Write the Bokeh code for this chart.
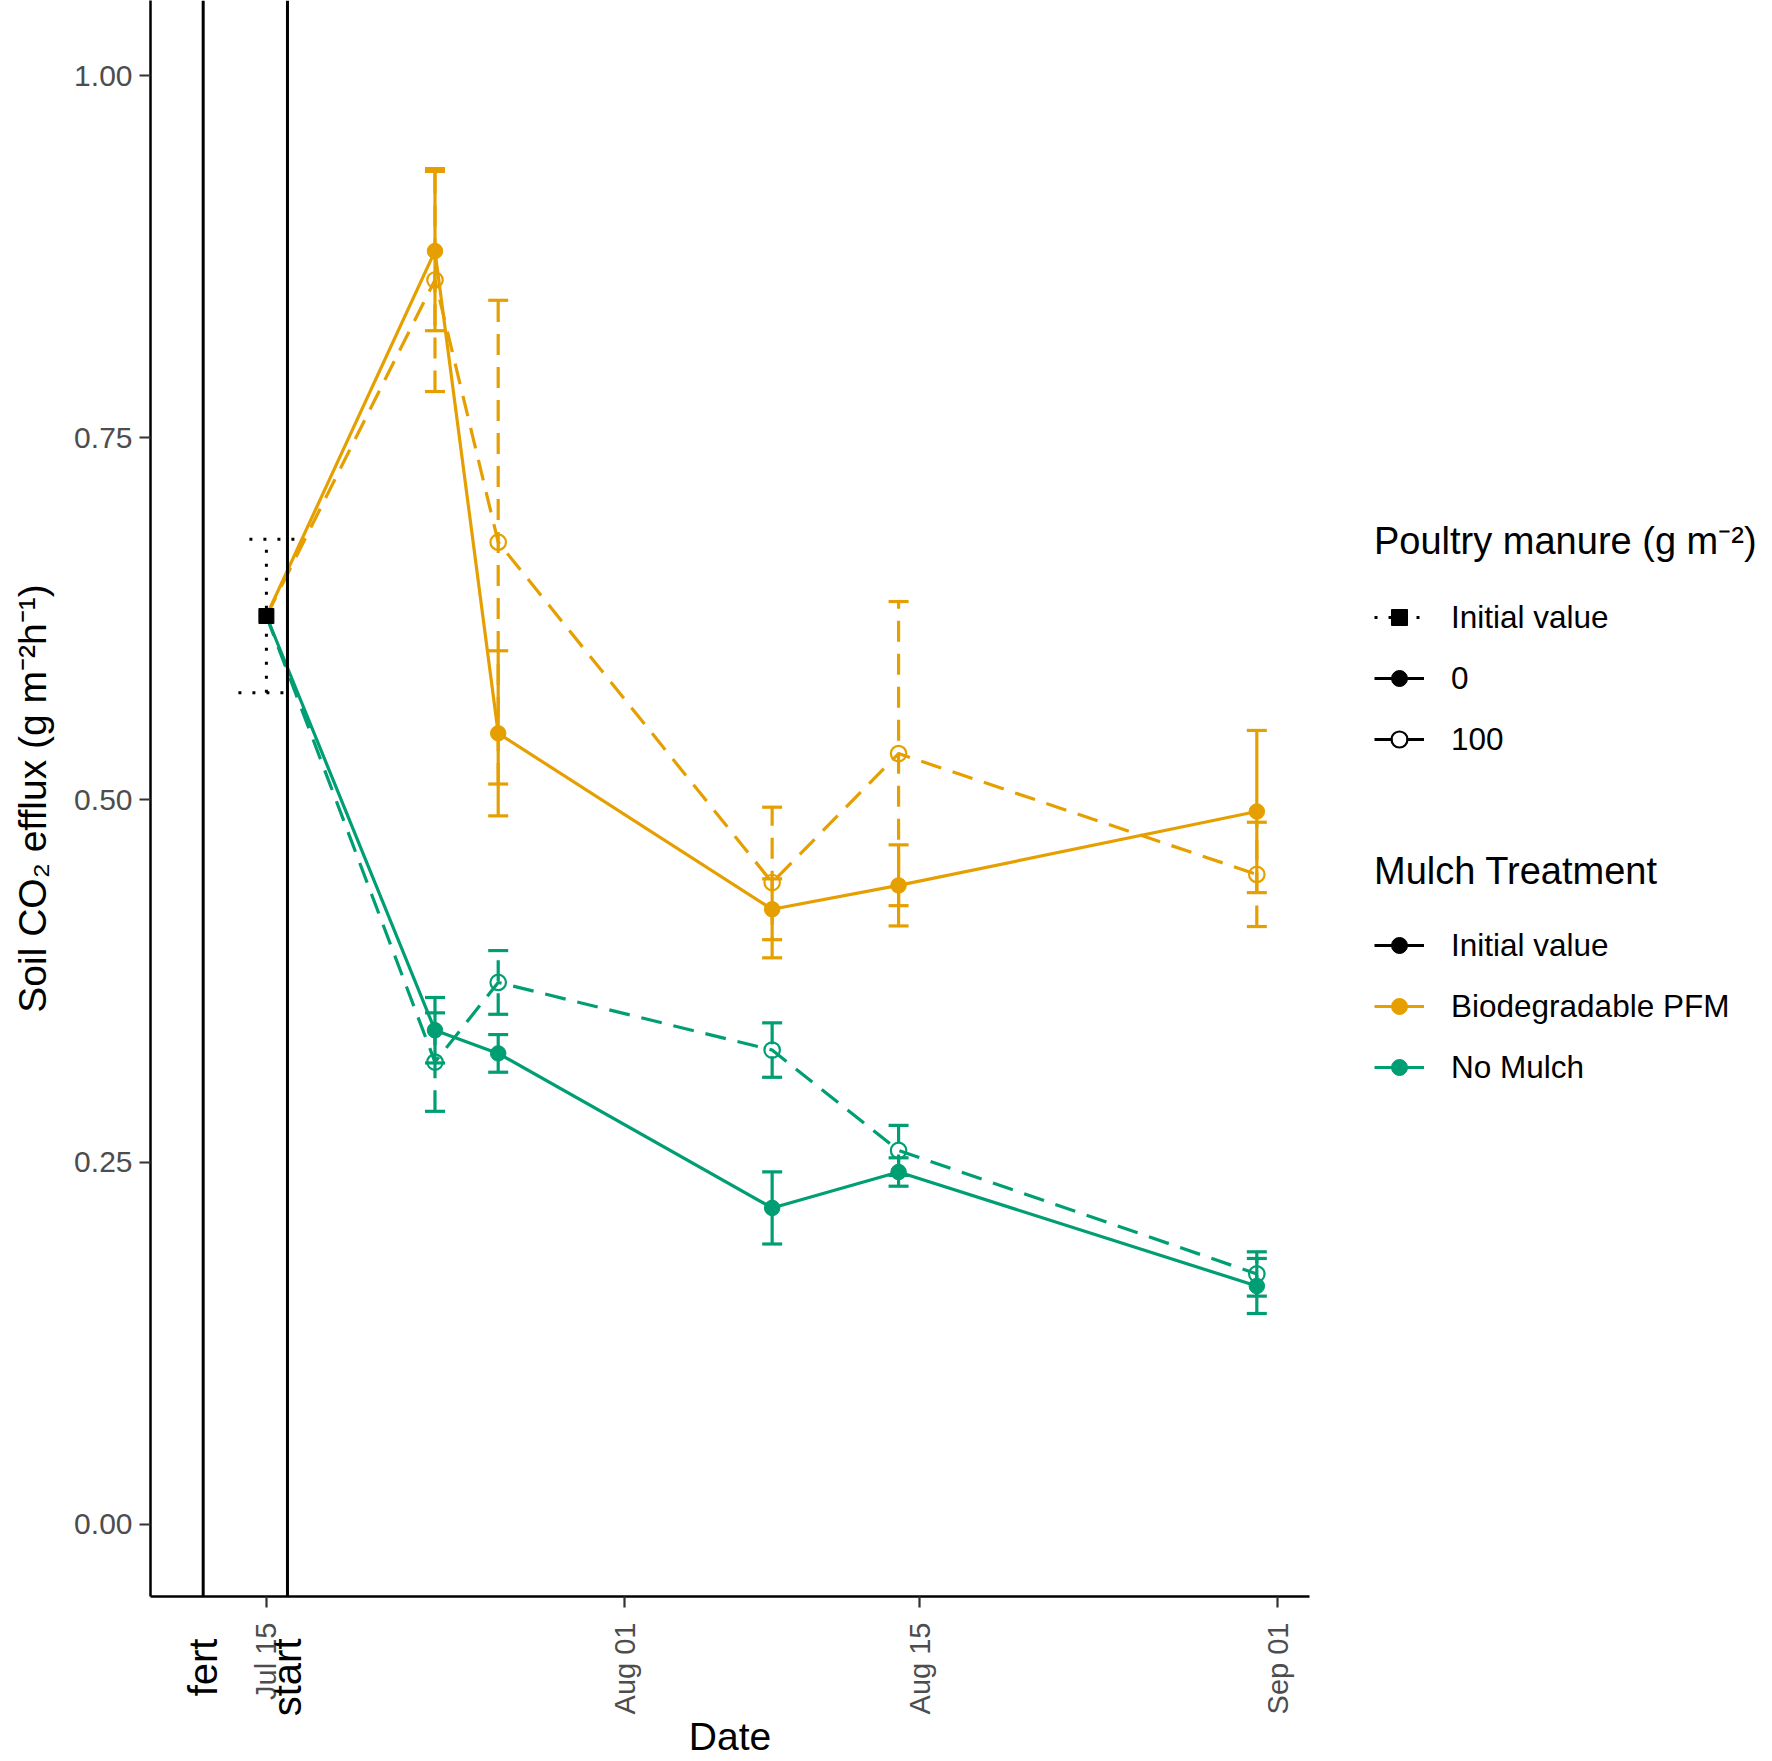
import math
import pandas as pd
from bokeh.plotting import figure
from bokeh.layouts import row
from bokeh.models import (ColumnDataSource, Whisker, TeeHead, Span, Legend,
                          LegendItem, FixedTicker, DatetimeTickFormatter, LinearAxis,
                          PrintfTickFormatter, Range1d)
from bokeh.embed import file_html
from bokeh.resources import INLINE

# ---------------- data ----------------
sample_dates = ["2019-07-23", "2019-07-26", "2019-08-08", "2019-08-14", "2019-08-31"]
initial_date = "2019-07-15"
initial_value = 0.627
initial_se = 0.053

pfm_0 = [0.879, 0.546, 0.4245, 0.441, 0.492]
pfm_0_se = [0.055, 0.057, 0.021, 0.028, 0.056]
pfm_100 = [0.859, 0.678, 0.443, 0.532, 0.4486]
pfm_100_se = [0.077, 0.167, 0.052, 0.105, 0.036]
nm_0 = [0.341, 0.325, 0.2183, 0.2431, 0.1644]
nm_0_se = [0.0226, 0.013, 0.0249, 0.0098, 0.019]
nm_100 = [0.319, 0.374, 0.3273, 0.258, 0.1727]
nm_100_se = [0.034, 0.022, 0.0188, 0.0173, 0.0153]

event_labels = ["fert", "start"]
event_dates = ["2019-07-12", "2019-07-16"]

y_ticks = [0.0, 0.25, 0.50, 0.75, 1.00]
x_tick_dates = ["2019-07-15", "2019-08-01", "2019-08-15", "2019-09-01"]

mulch_labels = ["Initial value", "Biodegradable PFM", "No Mulch"]
manure_labels = ["Initial value", "0", "100"]

ORANGE = "#E69F00"
GREEN = "#009E73"
FONT = "Liberation Sans"
DASH = "21 12"
DOT = "3 11"
LW = 3.2


def ms(d):
    return pd.Timestamp(d).value // 10**6


x_samples = [ms(d) for d in sample_dates]
x_init = ms(initial_date)
x_events = [ms(d) for d in event_dates]

span_lo = min(x_events)
span_hi = max(x_samples)
pad = 0.05 * (span_hi - span_lo)

H = 1761
p = figure(width=1319, height=H, x_axis_type="datetime",
           output_backend="svg", toolbar_location=None,
           x_range=Range1d(span_lo - pad, span_hi + pad),
           y_range=Range1d(-0.05, 1.052),
           min_border_left=150, min_border_right=10,
           min_border_top=0, min_border_bottom=161)
p.outline_line_color = None
p.xgrid.visible = False
p.ygrid.visible = False
p.background_fill_color = "white"
p.border_fill_color = "white"

# vertical event lines
for xe in x_events:
    p.add_layout(Span(location=xe, dimension="height", line_color="black",
                      line_width=3))

series = [
    (pfm_0, pfm_0_se, ORANGE, "solid", True),
    (pfm_100, pfm_100_se, ORANGE, DASH, False),
    (nm_0, nm_0_se, GREEN, "solid", True),
    (nm_100, nm_100_se, GREEN, DASH, False),
]

# lines
for vals, se, col, dash, filled in series:
    p.line([x_init] + x_samples, [initial_value] + vals, line_color=col,
           line_width=LW, line_dash=dash)

# error bars
for vals, se, col, dash, filled in series:
    src = ColumnDataSource(dict(x=x_samples,
                                upper=[v + e for v, e in zip(vals, se)],
                                lower=[v - e for v, e in zip(vals, se)]))
    w = Whisker(base="x", upper="upper", lower="lower", source=src,
                dimension="height", line_color=col, line_width=LW, line_dash=dash,
                upper_head=TeeHead(size=20, line_color=col, line_width=LW),
                lower_head=TeeHead(size=20, line_color=col, line_width=LW),
                level="glyph")
    p.add_layout(w)

init_src = ColumnDataSource(dict(x=[x_init], upper=[initial_value + initial_se],
                                 lower=[initial_value - initial_se]))
p.add_layout(Whisker(base="x", upper="upper", lower="lower", source=init_src,
                     dimension="height", line_color="black", line_width=3,
                     line_dash=DOT,
                     upper_head=TeeHead(size=56, line_color="black", line_width=3,
                                        line_dash=DOT),
                     lower_head=TeeHead(size=56, line_color="black", line_width=3,
                                        line_dash=DOT),
                     level="glyph"))

# points
for vals, se, col, dash, filled in series:
    if filled:
        p.scatter(x_samples, vals, marker="circle", size=15.5, fill_color=col,
                  line_color=col, line_width=1)
    else:
        p.scatter(x_samples, vals, marker="circle", size=15.5, fill_alpha=0,
                  line_color=col, line_width=2.2)
p.scatter([x_init], [initial_value], marker="square", size=15, fill_color="black",
          line_color="black")

# axes
for ax in (p.xaxis[0], p.yaxis[0]):
    ax.axis_line_color = "black"
    ax.axis_line_width = 2.5
    ax.major_tick_line_color = "#333333"
    ax.major_tick_line_width = 2.2
    ax.major_tick_out = 11
    ax.major_tick_in = 0
    ax.minor_tick_line_color = None
    ax.major_label_text_color = "#4D4D4D"
    ax.major_label_text_font = FONT
    ax.axis_label_text_font = FONT
    ax.axis_label_text_font_style = "normal"
    ax.axis_label_text_color = "black"
    ax.axis_label_text_font_size = "39px"

p.yaxis.ticker = FixedTicker(ticks=y_ticks)
p.yaxis.formatter = PrintfTickFormatter(format="%.2f")
p.yaxis.major_label_text_font_size = "30px"
p.yaxis.major_label_standoff = 7
p.yaxis.axis_label = "Soil CO\u2082 efflux (g m\u207b\u00b2h\u207b\u00b9)"
p.yaxis.axis_label_standoff = 17

p.xaxis.ticker = FixedTicker(ticks=[ms(d) for d in x_tick_dates])
fmt = "%b %d"
p.xaxis.formatter = DatetimeTickFormatter(days=fmt, months=fmt, years=fmt,
                                          hours=fmt, hourmin=fmt)
p.xaxis.major_label_orientation = math.pi / 2
p.xaxis.major_label_text_font_size = "29px"
p.xaxis.major_label_standoff = 15
p.xaxis.axis_label = "Date"
p.xaxis.axis_label_standoff = -2

# event labels as a second, line-less axis pulled up under the first one
ev_axis = LinearAxis(ticker=FixedTicker(ticks=x_events),
                     major_label_overrides={xe: lab for xe, lab in zip(x_events, event_labels)})
ev_axis.axis_line_color = None
ev_axis.major_tick_line_color = None
ev_axis.minor_tick_line_color = None
ev_axis.major_tick_out = 0
ev_axis.major_tick_in = 0
ev_axis.major_label_orientation = math.pi / 2
ev_axis.major_label_text_font = FONT
ev_axis.major_label_text_font_size = "40px"
ev_axis.major_label_text_color = "black"
ev_axis.major_label_standoff = -123
p.add_layout(ev_axis, "below")

# ---------------- legend panel ----------------
lp = figure(width=453, height=H, output_backend="svg", toolbar_location=None,
            x_range=Range1d(0, 1), y_range=Range1d(0, 1), min_border=0)
lp.axis.visible = False
lp.xgrid.visible = False
lp.ygrid.visible = False
lp.outline_line_color = None

NAN = [float("nan")]


def proxy_line(color, dash):
    return lp.line(x=NAN, y=NAN, line_color=color, line_width=LW, line_dash=dash)


def proxy_pt(marker, color, filled):
    if filled:
        return lp.scatter(x=NAN, y=NAN, marker=marker, fill_color=color,
                          line_color=color)
    return lp.scatter(x=NAN, y=NAN, marker=marker, fill_alpha=0, line_color=color,
                      line_width=2.2)


man_items = [
    LegendItem(label=manure_labels[0],
               renderers=[proxy_line("black", DOT), proxy_pt("square", "black", True)]),
    LegendItem(label=manure_labels[1],
               renderers=[proxy_line("black", "solid"), proxy_pt("circle", "black", True)]),
    LegendItem(label=manure_labels[2],
               renderers=[proxy_line("black", "18 14"), proxy_pt("circle", "black", False)]),
]
mul_colors = ["black", ORANGE, GREEN]
mul_items = [LegendItem(label=lab, renderers=[proxy_line(c, "solid"),
                                              proxy_pt("circle", c, True)])
             for lab, c in zip(mulch_labels, mul_colors)]


def make_legend(title, items, loc):
    lg = Legend(title=title, items=items, location=loc)
    lg.title_text_font = FONT
    lg.title_text_font_size = "38px"
    lg.title_text_font_style = "normal"
    lg.title_text_color = "black"
    lg.title_standoff = 32
    lg.label_text_font = FONT
    lg.label_text_font_size = "31.5px"
    lg.label_text_color = "black"
    lg.glyph_width = 50
    lg.glyph_height = 40
    lg.label_height = 40
    lg.label_standoff = 27
    lg.spacing = 21
    lg.padding = 0
    lg.margin = 0
    lg.border_line_color = None
    lg.background_fill_alpha = 0
    return lg


lp.add_layout(make_legend("Poultry manure (g m\u207b\u00b2)", man_items, (55, 837)))
lp.add_layout(make_legend("Mulch Treatment", mul_items, (55, 509)))

open("out.html", "w").write(file_html(row(p, lp), INLINE))
